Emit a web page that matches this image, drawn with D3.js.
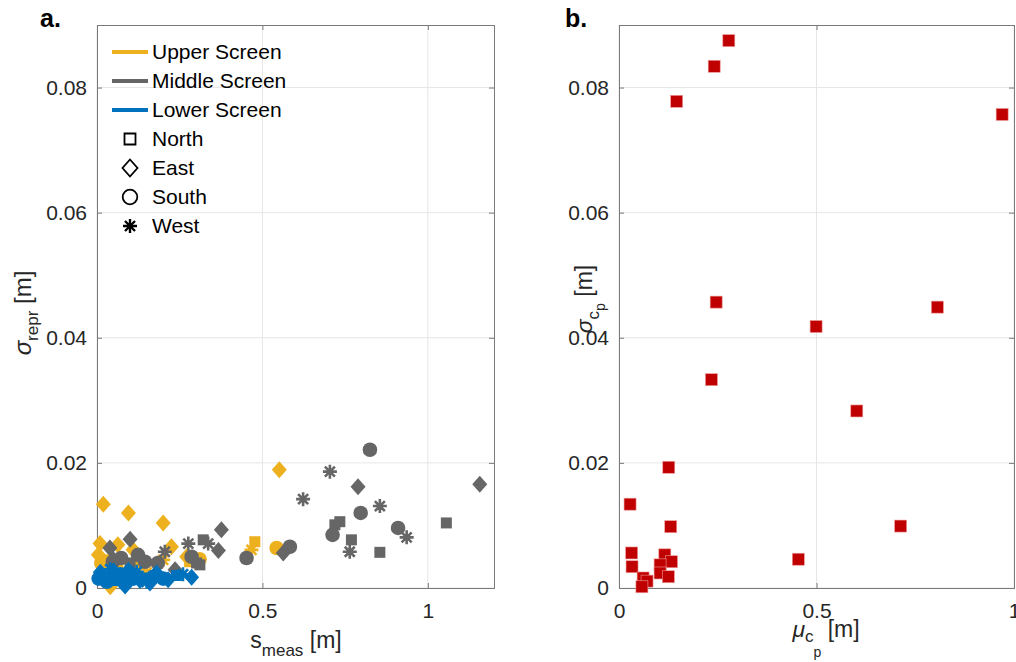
<!DOCTYPE html>
<html>
<head>
<meta charset="utf-8">
<script src="https://cdn.jsdelivr.net/npm/d3@7"></script>
<style>
  body { margin: 0; background: #fff; }
  svg { font-family: "Liberation Sans", Arial, sans-serif; }
  .tick text { fill: #262626; font-size: 21px; }
</style>
</head>
<body>
<div id="chart-area"></div>
<script>
// ---- data: panel a (s_meas, sigma_repr), one set of arrays per screen ----
var upperX   = [0.551, 0.019, 0.095, 0.200, 0.225, 0.271, 0.009, 0.004, 0.063, 0.109, 0.013, 0.040, 0.310, 0.477, 0.543, 0.467, 0.030, 0.120, 0.060, 0.150, 0.280, 0.200];
var upperY   = [0.0189, 0.0134, 0.0120, 0.0104, 0.0066, 0.0050, 0.0071, 0.0053, 0.0069, 0.0061, 0.0040, 0.0002, 0.0046, 0.0074, 0.0064, 0.0061, 0.0045, 0.0035, 0.0030, 0.0025, 0.0042, 0.0045];
var upperDir = ["E", "E", "E", "E", "E", "E", "E", "E", "E", "E", "S", "E", "S", "N", "S", "W", "N", "N", "S", "W", "N", "W"];

var middleX   = [0.825, 0.704, 0.789, 1.157, 0.623, 0.855, 0.797, 0.734, 0.719, 1.056, 0.712, 0.910, 0.936, 0.769, 0.764, 0.855,
                 0.376, 0.367, 0.583, 0.563, 0.452, 0.321, 0.336, 0.276, 0.205, 0.301, 0.311, 0.100, 0.039, 0.145, 0.124, 0.073, 0.048, 0.184, 0.236, 0.286, 0.050, 0.100];
var middleY   = [0.0221, 0.0186, 0.0162, 0.0166, 0.0142, 0.0131, 0.0120, 0.0106, 0.0101, 0.0104, 0.0085, 0.0096, 0.0081, 0.0077, 0.0058, 0.0057,
                 0.0093, 0.0060, 0.0066, 0.0056, 0.0048, 0.0077, 0.0071, 0.0071, 0.0058, 0.0040, 0.0037, 0.0078, 0.0064, 0.0042, 0.0053, 0.0048, 0.0042, 0.0040, 0.0029, 0.0050, 0.0045, 0.0040];
var middleDir = ["S", "W", "E", "E", "W", "W", "S", "N", "N", "N", "S", "S", "W", "N", "W", "N",
                 "E", "E", "S", "E", "S", "N", "W", "W", "W", "N", "N", "E", "E", "S", "S", "S", "S", "S", "E", "S", "E", "N"];

var lowerX   = [0.286, 0.215, 0.180, 0.010, 0.050, 0.085, 0.130, 0.160, 0.020, 0.060, 0.100, 0.140, 0.240, 0.030, 0.070, 0.110, 0.170, 0.200, 0.040, 0.080, 0.120, 0.150, 0.260, 0.005, 0.095];
var lowerY   = [0.0017, 0.0013, 0.0024, 0.0025, 0.0027, 0.0003, 0.0012, 0.0008, 0.0018, 0.0012, 0.0020, 0.0016, 0.0020, 0.0010, 0.0022, 0.0015, 0.0018, 0.0015, 0.0030, 0.0016, 0.0026, 0.0010, 0.0022, 0.0015, 0.0028];
var lowerDir = ["E", "E", "E", "E", "E", "E", "E", "E", "N", "N", "N", "N", "N", "S", "S", "S", "S", "S", "W", "W", "W", "W", "W", "S", "E"];

// ---- data: panel b (mu_cp, sigma_cp) ----
var muCp    = [0.278, 0.241, 0.146, 0.970, 0.246, 0.234, 0.499, 0.806, 0.602, 0.126, 0.131, 0.028, 0.032, 0.033, 0.454, 0.713,
               0.116, 0.133, 0.104, 0.104, 0.125, 0.061, 0.071, 0.058];
var sigmaCp = [0.0875, 0.0834, 0.0778, 0.0757, 0.0457, 0.0333, 0.0418, 0.0449, 0.0283, 0.0193, 0.0098, 0.0134, 0.0056, 0.0034, 0.0046, 0.0099,
               0.0053, 0.0042, 0.0037, 0.0024, 0.0018, 0.0016, 0.0011, 0.0002];

var screens = ["Upper Screen", "Middle Screen", "Lower Screen"];
var directions = ["North", "East", "South", "West"];
var colors = { "Upper Screen": "#EDB120", "Middle Screen": "#666666", "Lower Screen": "#0072BD" };

var svg = d3.select("#chart-area").append("svg")
    .attr("width", 1016)
    .attr("height", 662);

var plotTop = 25, plotBottom = 588;
var plotH = plotBottom - plotTop;

// marker path builders (MATLAB style)
function markerPath(dir) {
    if (dir === "N") return "M-5.5,-5.5H5.5V5.5H-5.5Z";
    if (dir === "E") return "M0,-8.5L7.5,0L0,8.5L-7.5,0Z";
    if (dir === "S") return d3.symbol(d3.symbolCircle, Math.PI * 7.3 * 7.3)();
    // asterisk
    var r = 7, q = 5;
    return "M0,-" + r + "V" + r + "M-" + r + ",0H" + r +
        "M-" + q + ",-" + q + "L" + q + "," + q + "M-" + q + "," + q + "L" + q + ",-" + q;
}

function drawAxes(g, x, y, w, h, xticks, yticks) {
    // grid
    g.selectAll(".gx").data(xticks).enter().append("line")
        .attr("x1", d => x(d)).attr("x2", d => x(d))
        .attr("y1", 0).attr("y2", h)
        .attr("stroke", "#e6e6e6").attr("stroke-width", 1);
    g.selectAll(".gy").data(yticks).enter().append("line")
        .attr("x1", 0).attr("x2", w)
        .attr("y1", d => y(d)).attr("y2", d => y(d))
        .attr("stroke", "#e6e6e6").attr("stroke-width", 1);

    var fmt = function(d) { return d3.format("~g")(d); };

    var xAxis = g.append("g").attr("transform", "translate(0," + h + ")")
        .call(d3.axisBottom(x).tickValues(xticks).tickSize(-5).tickPadding(15).tickFormat(fmt));
    var xTop = g.append("g")
        .call(d3.axisTop(x).tickValues(xticks).tickSize(-5).tickFormat(""));
    var yAxis = g.append("g")
        .call(d3.axisLeft(y).tickValues(yticks).tickSize(-5).tickPadding(10).tickFormat(fmt));
    var yRight = g.append("g").attr("transform", "translate(" + w + ",0)")
        .call(d3.axisRight(y).tickValues(yticks).tickSize(-5).tickFormat(""));

    [xAxis, xTop, yAxis, yRight].forEach(function(a) {
        a.select(".domain").attr("stroke", "#7a7a7a");
        a.selectAll(".tick line").attr("stroke", "#7a7a7a");
    });
    return { xAxis: xAxis, yAxis: yAxis };
}

/******************************** Panel a ********************************/
var xA = d3.scaleLinear().domain([0, 1.2]).range([0, 397]);
var yA = d3.scaleLinear().domain([0, 0.09]).range([plotH, 0]);
var gA = svg.append("g").attr("transform", "translate(97," + plotTop + ")");

drawAxes(gA, xA, yA, 397, plotH, [0, 0.5, 1], [0, 0.02, 0.04, 0.06, 0.08]);

var seriesA = [
    { name: "Upper Screen", x: upperX, y: upperY, dir: upperDir },
    { name: "Middle Screen", x: middleX, y: middleY, dir: middleDir },
    { name: "Lower Screen", x: lowerX, y: lowerY, dir: lowerDir }
];

seriesA.forEach(function(s) {
    var pts = s.x.map(function(v, i) { return { x: v, y: s.y[i], dir: s.dir[i] }; });
    gA.append("g").selectAll("path").data(pts).enter().append("path")
        .attr("transform", d => "translate(" + xA(d.x) + "," + yA(d.y) + ")")
        .attr("d", d => markerPath(d.dir))
        .attr("fill", d => d.dir === "W" ? "none" : colors[s.name])
        .attr("stroke", colors[s.name])
        .attr("stroke-width", d => d.dir === "W" ? 2.6 : 0);
});

// legend
var legend = svg.append("g").attr("transform", "translate(112,0)");
screens.forEach(function(name, i) {
    var ly = 52 + i * 29;
    legend.append("line")
        .attr("x1", 0).attr("x2", 36).attr("y1", ly).attr("y2", ly)
        .attr("stroke", colors[name]).attr("stroke-width", 4);
    legend.append("text").attr("x", 40).attr("y", ly).attr("dy", "0.35em")
        .attr("font-size", "21px").attr("fill", "#000").text(name);
});
var dirCodes = ["N", "E", "S", "W"];
directions.forEach(function(name, i) {
    var ly = 139 + i * 29;
    legend.append("path")
        .attr("transform", "translate(18," + ly + ")")
        .attr("d", markerPath(dirCodes[i]))
        .attr("fill", dirCodes[i] === "W" ? "none" : "#fff")
        .attr("stroke", "#000").attr("stroke-width", dirCodes[i] === "W" ? 2.4 : 1.8);
    legend.append("text").attr("x", 40).attr("y", ly).attr("dy", "0.35em")
        .attr("font-size", "21px").attr("fill", "#000").text(name);
});

// axis labels panel a
var yLabA = svg.append("text")
    .attr("transform", "translate(31,313) rotate(-90)")
    .attr("text-anchor", "middle").attr("font-size", "24px").attr("fill", "#262626");
yLabA.append("tspan").attr("font-style", "italic").text("σ");
yLabA.append("tspan").attr("font-size", "17px").attr("dy", 7).text("repr");
yLabA.append("tspan").attr("dy", -7).text(" [m]");

var xLabA = svg.append("text")
    .attr("x", 296).attr("y", 648)
    .attr("text-anchor", "middle").attr("font-size", "23px").attr("fill", "#262626");
xLabA.append("tspan").text("s");
xLabA.append("tspan").attr("font-size", "17px").attr("dy", 8).text("meas");
xLabA.append("tspan").attr("dy", -8).text(" [m]");

svg.append("text").attr("x", 40).attr("y", 27)
    .attr("font-size", "25px").attr("font-weight", "bold").text("a.");

/******************************** Panel b ********************************/
var xB = d3.scaleLinear().domain([0, 1]).range([0, 395]);
var yB = d3.scaleLinear().domain([0, 0.09]).range([plotH, 0]);
var gB = svg.append("g").attr("transform", "translate(619," + plotTop + ")");

drawAxes(gB, xB, yB, 395, plotH, [0, 0.5, 1], [0, 0.02, 0.04, 0.06, 0.08]);

var ptsB = muCp.map(function(v, i) { return { x: v, y: sigmaCp[i] }; });
gB.append("g").selectAll("rect").data(ptsB).enter().append("rect")
    .attr("x", d => xB(d.x) - 6).attr("y", d => yB(d.y) - 6)
    .attr("width", 12).attr("height", 12)
    .attr("fill", "#C00000").attr("stroke", "#ef9a9a").attr("stroke-width", 0.6);

var yLabB = svg.append("text")
    .attr("transform", "translate(592,299) rotate(-90)")
    .attr("text-anchor", "middle").attr("font-size", "23px").attr("fill", "#262626");
yLabB.append("tspan").attr("font-style", "italic").text("σ");
yLabB.append("tspan").attr("font-size", "17px").attr("dy", 7).text("c");
yLabB.append("tspan").attr("font-size", "14px").attr("dy", 6).text("p");
yLabB.append("tspan").attr("dy", -13).text(" [m]");

var xLabB = svg.append("text")
    .attr("x", 826).attr("y", 637)
    .attr("text-anchor", "middle").attr("font-size", "23px").attr("fill", "#262626");
xLabB.append("tspan").attr("font-style", "italic").text("μ");
xLabB.append("tspan").attr("font-size", "17px").attr("dy", 5).text("c");
xLabB.append("tspan").attr("font-size", "14px").attr("dy", 15).text("p");
xLabB.append("tspan").attr("dy", -20).text(" [m]");

svg.append("text").attr("x", 565).attr("y", 27)
    .attr("font-size", "25px").attr("font-weight", "bold").text("b.");
</script>
</body>
</html>
